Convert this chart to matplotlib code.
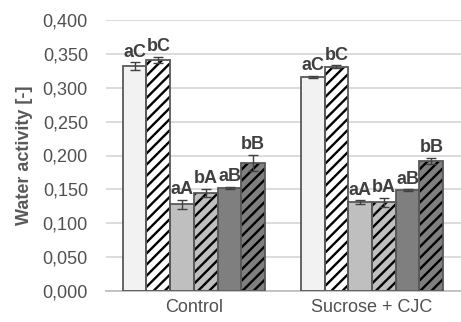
import matplotlib
matplotlib.use("Agg")
import matplotlib.pyplot as plt
import numpy as np

categories = ["Control", "Sucrose + CJC"]
series_values = [
    [0.332, 0.316],
    [0.341, 0.331],
    [0.128, 0.131],
    [0.145, 0.131],
    [0.152, 0.149],
    [0.189, 0.192],
]
series_errors = [
    [0.006, 0.002],
    [0.005, 0.002],
    [0.007, 0.003],
    [0.006, 0.007],
    [0.002, 0.001],
    [0.012, 0.005],
]
letters = [
    ["aC", "aC"],
    ["bC", "bC"],
    ["aA", "aA"],
    ["bA", "bA"],
    ["aB", "aB"],
    ["bB", "bB"],
]
ytick_labels = ["0,000", "0,050", "0,100", "0,150", "0,200", "0,250", "0,300", "0,350", "0,400"]

fills = ["#f2f2f2", "#ffffff", "#bfbfbf", "#bfbfbf", "#7f7f7f", "#7f7f7f"]
hatches = [None, "///", None, "///", None, "///"]

plt.rcParams['font.family'] = ['Liberation Sans', 'DejaVu Sans']
plt.rcParams['hatch.linewidth'] = 1.7

fig = plt.figure(figsize=(4.61, 3.22), dpi=100)
ax = fig.add_axes([106/461, 1-291/322, 1-106/461, (291-20)/322])

x = np.arange(len(categories))
w = 24/180
n = len(series_values)
for i in range(n):
    pos = x + (i - (n-1)/2) * w
    vals = series_values[i]
    ax.bar(pos, vals, w, color=fills[i], hatch=hatches[i], edgecolor="black",
           linewidth=0, zorder=2)
    ax.bar(pos, vals, w, fill=False, edgecolor="#595959", linewidth=1.3, zorder=3)
    ax.errorbar(pos, vals, yerr=series_errors[i], fmt="none", ecolor="#404040",
                elinewidth=1.0, capsize=3.5, capthick=1.0, zorder=4)
    for j in range(len(categories)):
        ax.annotate(letters[i][j], (pos[j], vals[j] + series_errors[i][j]),
                    xytext=(0, 1.0), textcoords="offset points", ha="center", va="bottom",
                    fontsize=13, fontweight="bold", color="#404040", zorder=5)

ax.set_ylim(0, 0.4)
ax.set_xlim(-0.494, 1.5)
ax.set_yticks(np.arange(0, 0.401, 0.05))
ax.set_yticklabels(ytick_labels)
ax.set_xticks(x)
ax.set_xticklabels(categories)
ax.tick_params(axis="both", length=0, labelsize=13, colors="#505050")
ax.tick_params(axis="x", pad=6)
ax.tick_params(axis="y", pad=13)
ax.yaxis.grid(True, color="#d9d9d9", linewidth=1.3, zorder=0)
ax.set_axisbelow(True)
for s in ["top", "right", "left"]:
    ax.spines[s].set_visible(False)
ax.spines["bottom"].set_color("#bfbfbf")
ax.spines["bottom"].set_linewidth(1.3)
ax.set_ylabel("Water activity [-]", fontsize=13, fontweight="bold", color="#595959", labelpad=7)

fig.savefig("out.png", dpi=100)
